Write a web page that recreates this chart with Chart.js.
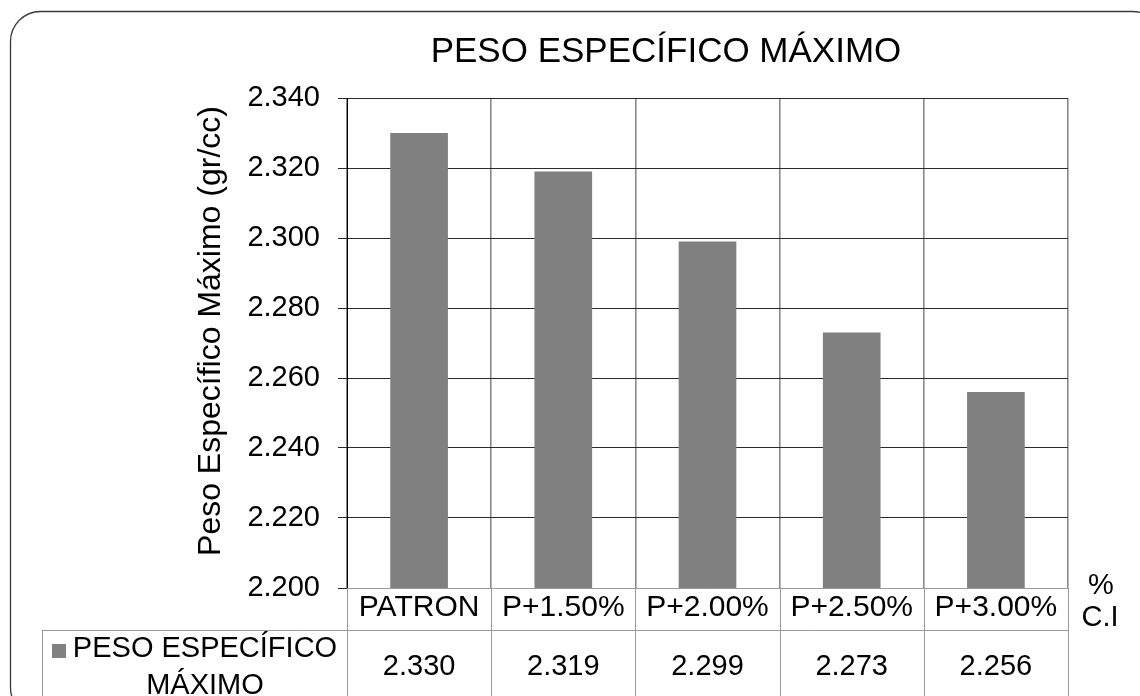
<!DOCTYPE html>
<html>
<head>
<meta charset="utf-8">
<script src="https://cdn.jsdelivr.net/npm/chart.js@4/dist/chart.umd.min.js"></script>
<style>
  html, body { margin: 0; padding: 0; background: #ffffff; }
  #wrap { width: 1140px; height: 696px; position: relative; }
</style>
</head>
<body>
<div id="wrap"><canvas id="c"></canvas></div>
<script>
// Maximum specific weight per mix
const categories = ['PATRON', 'P+1.50%', 'P+2.00%', 'P+2.50%', 'P+3.00%'];
const pesoValues = [2.330, 2.319, 2.299, 2.273, 2.256];
const yTicks = [2.200, 2.220, 2.240, 2.260, 2.280, 2.300, 2.320, 2.340];
const chartTitle = 'PESO ESPECÍFICO MÁXIMO';
const yAxisTitle = 'Peso Específico Máximo (gr/cc)';
const seriesName = ['PESO ESPECÍFICO', 'MÁXIMO'];
const axisUnitLabel = ['%', 'C.I'];

const FONT = "'Liberation Sans', Arial, sans-serif";
const BAR_COLOR = '#808080';

// Titles, data table under the x axis, and the rounded frame around the chart
const tablePlugin = {
  id: 'dataTable',
  afterDraw(chart) {
    const ctx = chart.ctx;
    const x = chart.scales.x;
    const area = chart.chartArea;
    const left = area.left, right = area.right, bottom = area.bottom;
    const tableLeft = 42;
    const rowLine = 630;
    const H = chart.height;
    const step = (right - left) / categories.length;

    ctx.save();
    // chart title
    ctx.fillStyle = '#000';
    ctx.textAlign = 'center';
    ctx.textBaseline = 'middle';
    ctx.font = '35px ' + FONT;
    ctx.fillText(chartTitle, 666, 52);

    // value axis title
    ctx.save();
    ctx.translate(211, 331);
    ctx.rotate(-Math.PI / 2);
    ctx.font = '32px ' + FONT;
    ctx.fillText(yAxisTitle, 0, 0);
    ctx.restore();

    // table grid
    ctx.strokeStyle = '#9a9a9a';
    ctx.lineWidth = 1;
    ctx.beginPath();
    ctx.moveTo(left, bottom + 0.5); ctx.lineTo(right, bottom + 0.5);
    ctx.moveTo(tableLeft, rowLine + 0.5); ctx.lineTo(right, rowLine + 0.5);
    ctx.moveTo(tableLeft + 0.5, rowLine); ctx.lineTo(tableLeft + 0.5, H);
    for (let i = 0; i <= categories.length; i++) {
      const px = Math.round(left + i * step) + 0.5;
      ctx.moveTo(px, bottom); ctx.lineTo(px, H);
    }
    ctx.stroke();

    // values row
    ctx.fillStyle = '#000';
    ctx.font = '29px ' + FONT;
    pesoValues.forEach((v, i) => {
      ctx.fillText(v.toFixed(3), x.getPixelForValue(i), 667);
    });

    // series key in the first column
    ctx.fillStyle = BAR_COLOR;
    ctx.fillRect(52, 644, 14, 14);
    ctx.fillStyle = '#000';
    ctx.fillText(seriesName[0], 205, 649);
    ctx.fillText(seriesName[1], 205, 686);

    // category axis unit
    ctx.fillText(axisUnitLabel[0], 1101, 586);
    ctx.fillText(axisUnitLabel[1], 1100, 618);

    // rounded frame
    ctx.strokeStyle = '#3a3a3a';
    ctx.lineWidth = 1.3;
    ctx.beginPath();
    ctx.roundRect(10.5, 11.5, 1152, 706, 30);
    ctx.stroke();
    ctx.restore();
  }
};

new Chart(document.getElementById('c'), {
  type: 'bar',
  data: {
    labels: categories,
    datasets: [{
      label: seriesName.join(' '),
      data: pesoValues,
      backgroundColor: BAR_COLOR,
      borderWidth: 0,
      barPercentage: 0.4,
      categoryPercentage: 1.0
    }]
  },
  options: {
    responsive: true,
    maintainAspectRatio: false,
    animation: false,
    layout: { padding: { left: 0, right: 72, top: 98, bottom: 0 } },
    plugins: {
      legend: { display: false },
      tooltip: { enabled: false },
      title: { display: false }
    },
    scales: {
      x: {
        offset: true,
        grid: {
          offset: true,
          drawTicks: false,
          color: c => (c.index === categories.length ? '#333333' : '#8a8a8a'),
          lineWidth: c => (c.index === categories.length ? 1 : 1.6)
        },
        border: { color: '#9a9a9a' },
        ticks: { color: '#000', font: { family: FONT, size: 30 }, padding: 2, maxRotation: 0 },
        afterFit(scale) { scale.height = 108; }
      },
      y: {
        min: 2.2,
        max: 2.34,
        afterBuildTicks(scale) { scale.ticks = yTicks.map(v => ({ value: v })); },
        grid: { color: '#2a2a2a', tickLength: 9, lineWidth: 1 },
        border: { color: '#000' },
        ticks: {
          color: '#000',
          font: { family: FONT, size: 29 },
          padding: 18,
          callback: v => Number(v).toFixed(3)
        },
        afterFit(scale) { scale.width = 347; }
      }
    }
  },
  plugins: [tablePlugin]
});
</script>
</body>
</html>
